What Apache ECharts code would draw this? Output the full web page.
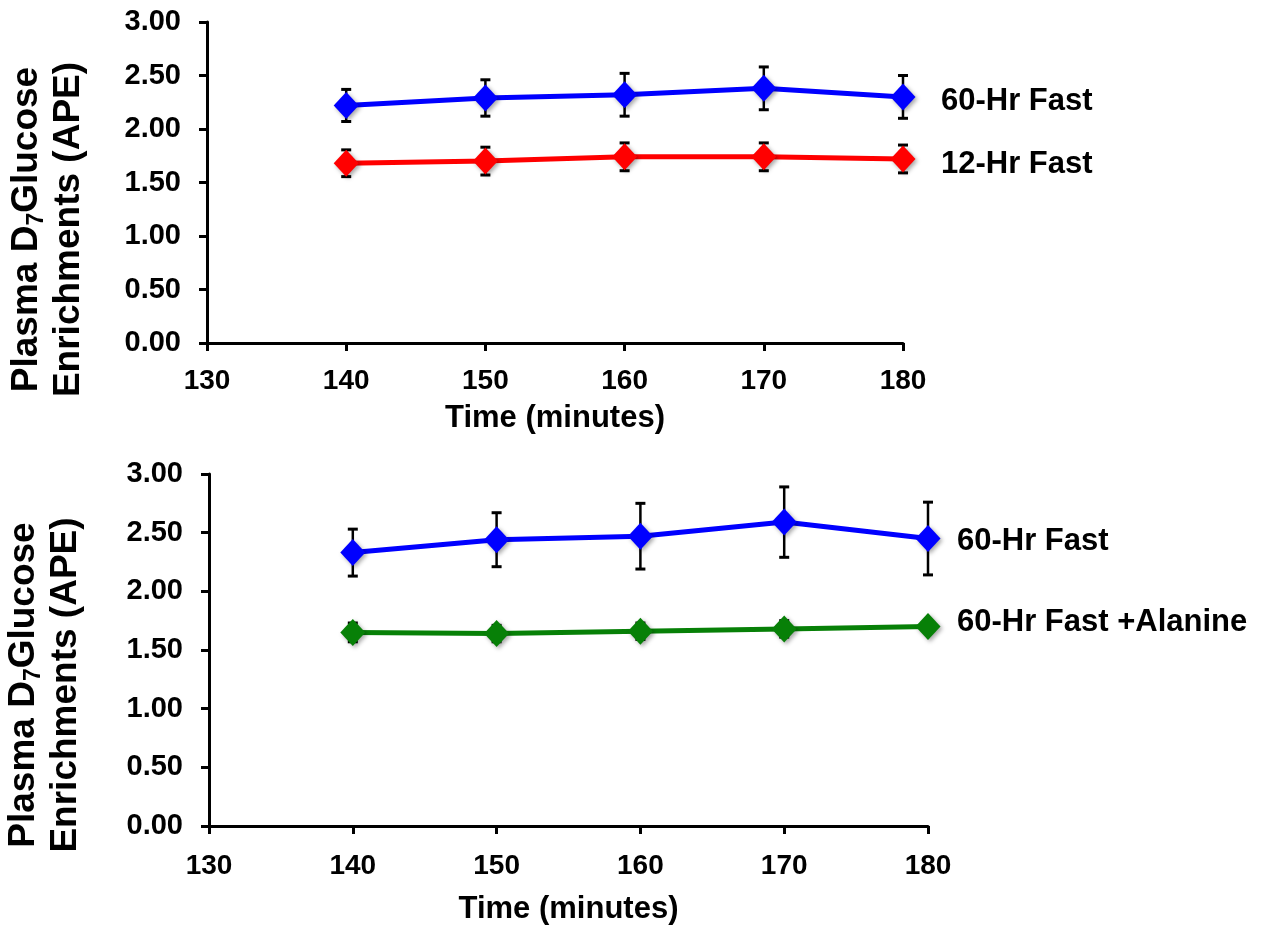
<!DOCTYPE html>
<html>
<head>
<meta charset="utf-8">
<script src="https://cdn.jsdelivr.net/npm/echarts@6/dist/echarts.min.js"></script>
<style>
html,body{margin:0;padding:0;background:#fff;}
#c{width:1268px;height:926px;}
</style>
</head>
<body>
<div id="c"></div>
<script>
// ---- data ----
var times = [140, 150, 160, 170, 180];
var xTicks = [130, 140, 150, 160, 170, 180];
var yTicks = [0, 0.5, 1, 1.5, 2, 2.5, 3];

var top60Name = '60-Hr Fast';
var top60 = [2.22, 2.29, 2.32, 2.38, 2.30];
var top60Err = [0.15, 0.17, 0.20, 0.20, 0.20];

var top12Name = '12-Hr Fast';
var top12 = [1.68, 1.70, 1.74, 1.74, 1.72];
var top12Err = [0.125, 0.13, 0.13, 0.13, 0.13];

var bot60Name = '60-Hr Fast';
var bot60 = [2.33, 2.44, 2.47, 2.59, 2.45];
var bot60Err = [0.20, 0.23, 0.28, 0.30, 0.31];

var botAlaName = '60-Hr Fast +Alanine';
var botAla = [1.65, 1.64, 1.66, 1.68, 1.70];
var botAlaErr = [0.08, 0.07, 0.07, 0.07, 0.04];

var xName = 'Time (minutes)';
var yNameRich = '{a|Plasma D}{s|7}{a|Glucose}\n{a|Enrichments (APE)}';

// ---- chart ----
var FONT = "'Liberation Sans', Arial, sans-serif";

function pairs(xs, ys) { return xs.map(function (x, i) { return [x, ys[i]]; }); }
function errData(xs, ys, es) { return xs.map(function (x, i) { return [x, ys[i] - es[i], ys[i] + es[i]]; }); }

function errRender(params, api) {
  var x = api.value(0), lo = api.value(1), hi = api.value(2);
  var pLo = api.coord([x, lo]), pHi = api.coord([x, hi]);
  var hw = 5;
  var st = { stroke: '#000', lineWidth: 2.5 };
  return {
    type: 'group',
    children: [
      { type: 'line', shape: { x1: pHi[0], y1: pHi[1], x2: pLo[0], y2: pLo[1] }, style: st },
      { type: 'line', shape: { x1: pHi[0] - hw, y1: pHi[1], x2: pHi[0] + hw, y2: pHi[1] }, style: { stroke: '#000', lineWidth: 3 } },
      { type: 'line', shape: { x1: pLo[0] - hw, y1: pLo[1], x2: pLo[0] + hw, y2: pLo[1] }, style: { stroke: '#000', lineWidth: 3 } }
    ]
  };
}

function xAxisCfg(gi, nameGap, margin) {
  return {
    type: 'value', gridIndex: gi, min: xTicks[0], max: xTicks[xTicks.length - 1], interval: 10,
    name: xName, nameLocation: 'middle', nameGap: nameGap,
    nameTextStyle: { fontFamily: FONT, fontWeight: 'bold', fontSize: 31, color: '#000' },
    axisLine: { lineStyle: { color: '#000', width: 3 } },
    axisTick: { show: true, length: 8, lineStyle: { color: '#000', width: 3 } },
    axisLabel: { fontFamily: FONT, fontWeight: 'bold', fontSize: 28, color: '#000', margin: margin },
    splitLine: { show: false }
  };
}
function yAxisCfg(gi, nameGap, shiftDown) {
  return {
    type: 'value', gridIndex: gi, min: yTicks[0], max: yTicks[yTicks.length - 1], interval: 0.5,
    name: yNameRich, nameLocation: 'middle', nameGap: nameGap, nameRotate: 90,
    nameTextStyle: {
      fontFamily: FONT, fontWeight: 'bold', fontSize: 37, color: '#000', lineHeight: 42,
      padding: [0, shiftDown * 2, 0, 0],
      rich: {
        a: { fontFamily: FONT, fontWeight: 'bold', fontSize: 37, color: '#000', lineHeight: 42 },
        s: { fontFamily: FONT, fontWeight: 'bold', fontSize: 23, color: '#000', lineHeight: 42, verticalAlign: 'bottom', padding: [15, 0, 0, 0] }
      }
    },
    axisLine: { show: true, lineStyle: { color: '#000', width: 3 } },
    axisTick: { show: true, length: 8, lineStyle: { color: '#000', width: 3 } },
    axisLabel: {
      fontFamily: FONT, fontWeight: 'bold', fontSize: 29, color: '#000', margin: 26,
      formatter: function (v) { return v.toFixed(2); }
    },
    splitLine: { show: false }
  };
}

function lineSeries(name, xi, data, color, dist, labelOffsetY) {
  return {
    type: 'line', name: name, xAxisIndex: xi, yAxisIndex: xi, data: data, z: 3,
    symbol: 'diamond', symbolSize: [25, 27],
    lineStyle: { color: color, width: 5 },
    itemStyle: { color: color, shadowColor: 'rgba(0,0,0,0.35)', shadowBlur: 4, shadowOffsetX: 2, shadowOffsetY: 2 },
    endLabel: {
      show: true, formatter: name, distance: dist, offset: [0, labelOffsetY],
      fontFamily: FONT, fontWeight: 'bold', fontSize: 31, color: '#000'
    },
    animation: false
  };
}
function errSeries(xi, data) {
  return { type: 'custom', xAxisIndex: xi, yAxisIndex: xi, data: data, renderItem: errRender, z: 2, animation: false, silent: true };
}

var chart = echarts.init(document.getElementById('c'));
chart.setOption({
  backgroundColor: '#fff',
  animation: false,
  grid: [
    { left: 207, top: 22, width: 696, height: 321, containLabel: false, outerBoundsMode: 'none' },
    { left: 209, top: 474, width: 719, height: 352, containLabel: false, outerBoundsMode: 'none' }
  ],
  xAxis: [xAxisCfg(0, 60, 24), xAxisCfg(1, 68, 26)],
  yAxis: [yAxisCfg(0, 117, 47), yAxisCfg(1, 122, 35)],
  series: [
    errSeries(0, errData(times, top60, top60Err)),
    errSeries(0, errData(times, top12, top12Err)),
    lineSeries(top60Name, 0, pairs(times, top60), '#0000FF', 38, 5),
    lineSeries(top12Name, 0, pairs(times, top12), '#FF0000', 38, 5),
    errSeries(1, errData(times, bot60, bot60Err)),
    errSeries(1, errData(times, botAla, botAlaErr)),
    lineSeries(bot60Name, 1, pairs(times, bot60), '#0000FF', 29, 3),
    lineSeries(botAlaName, 1, pairs(times, botAla), '#078007', 29, -4)
  ]
});
</script>
</body>
</html>
